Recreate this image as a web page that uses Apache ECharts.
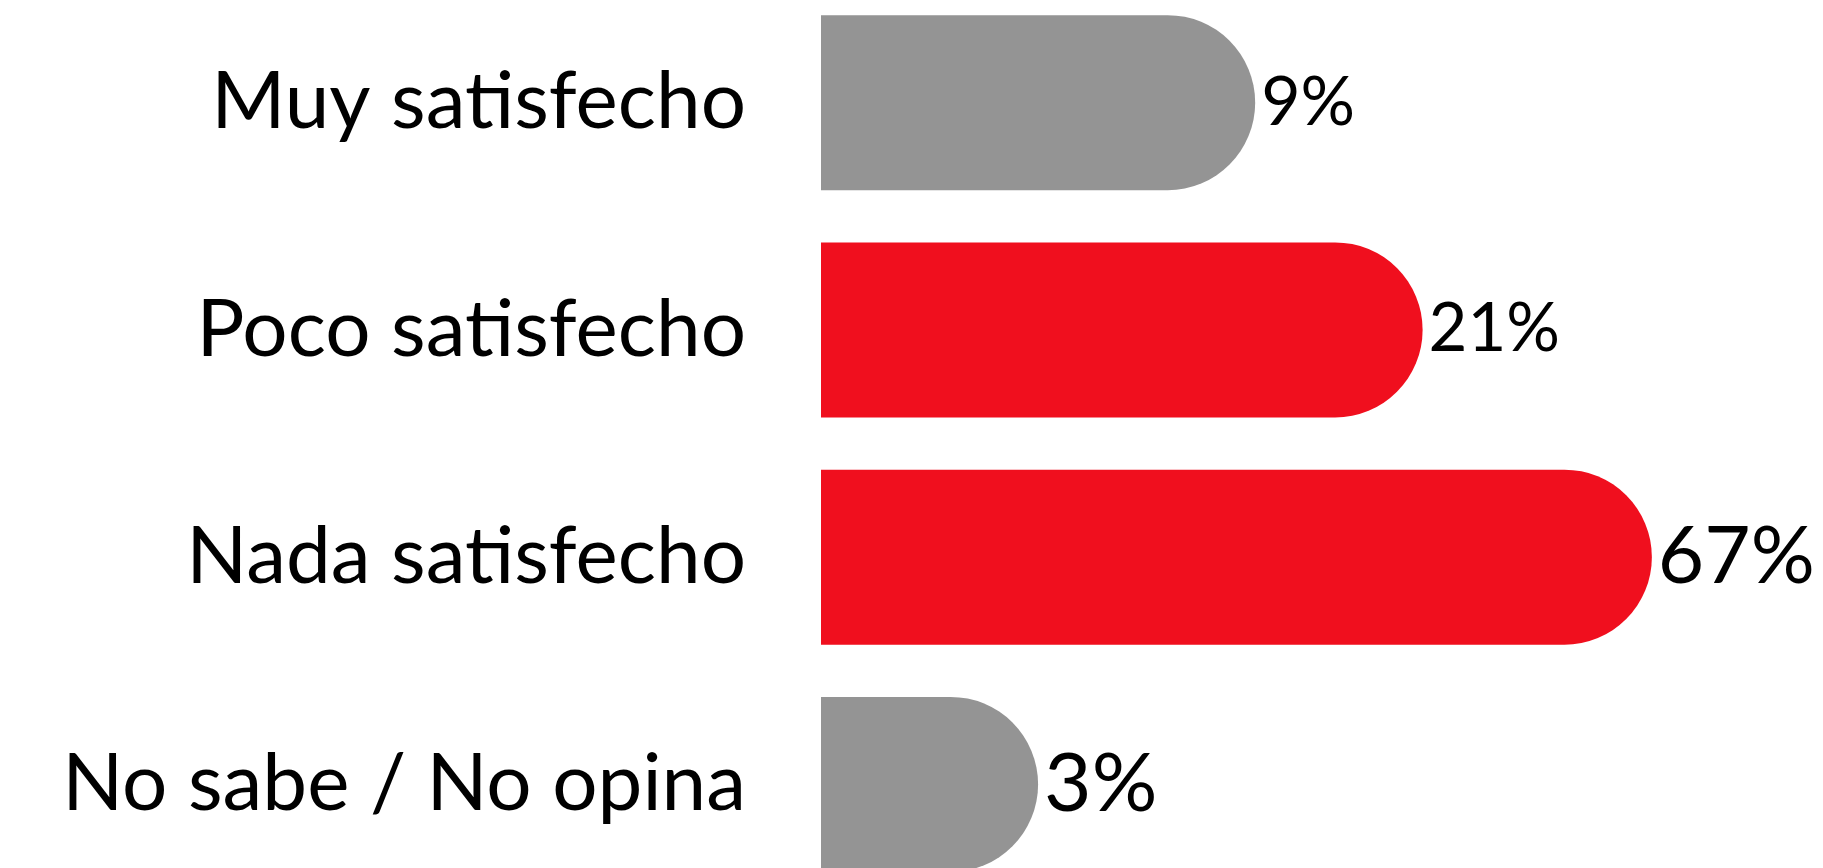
<!DOCTYPE html>
<html>
<head>
<meta charset="utf-8">
<script src="https://cdn.jsdelivr.net/npm/echarts@6/dist/echarts.min.js"></script>
<style>
html,body{margin:0;padding:0;background:#fff;overflow:hidden;width:1823px;height:868px;}
#c{position:absolute;left:0;top:-11px;width:1823px;height:920px;}
</style>
</head>
<body>
<div id="c"></div>
<script>
const categories = ["Muy satisfecho", "Poco satisfecho", "Nada satisfecho", "No sabe / No opina"];
const values = [9, 21, 67, 3];
const valueLabels = ["9%", "21%", "67%", "3%"];

const barColors = ["#949494", "#F00F1E", "#F00F1E", "#949494"];
const labelSizes = [68, 67, 80, 82];

const chart = echarts.init(document.getElementById('c'), null, {renderer: 'canvas'});
chart.setOption({
  animation: false,
  backgroundColor: '#ffffff',
  grid: {left: 821, right: 92, top: 0, height: 909, containLabel: false},
  xAxis: {
    type: 'log', logBase: 10, min: 1, max: 100, show: false
  },
  yAxis: {
    type: 'category', data: categories, inverse: true,
    axisLine: {show: false}, axisTick: {show: false}, splitLine: {show: false},
    axisLabel: {
      margin: 75, color: '#000', fontFamily: 'Lato', fontSize: 80, fontWeight: 'normal'
    }
  },
  series: [{
    type: 'bar',
    barWidth: 175,
    data: values.map((v, i) => ({
      value: v,
      itemStyle: {color: barColors[i], borderRadius: [0, 87.5, 87.5, 0]},
      label: {fontSize: labelSizes[i]}
    })),
    label: {
      show: true, position: 'right', distance: 6,
      color: '#000', fontFamily: 'Lato',
      formatter: p => valueLabels[p.dataIndex]
    }
  }]
});
</script>
</body>
</html>
